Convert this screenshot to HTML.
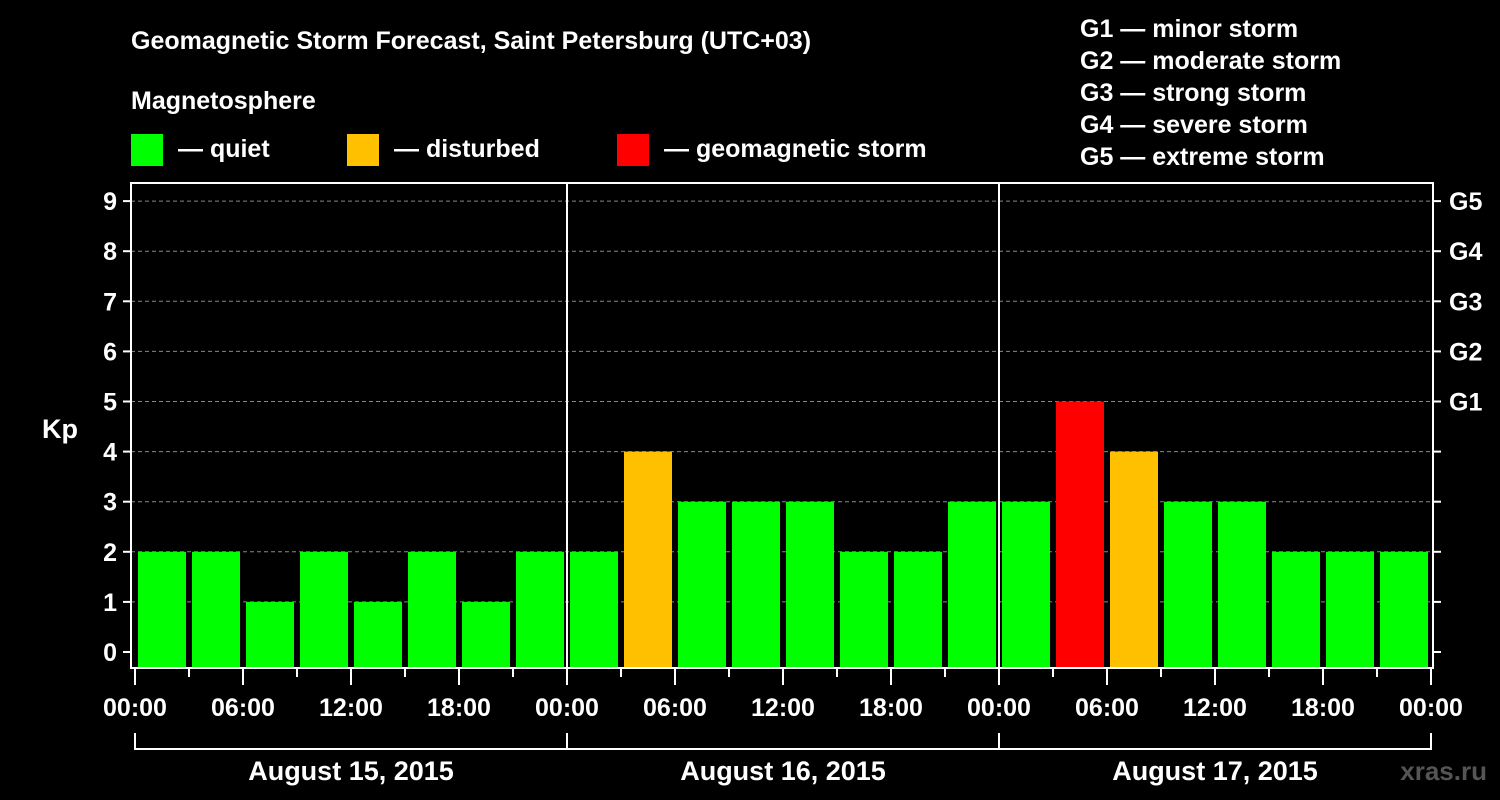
<!DOCTYPE html>
<html><head><meta charset="utf-8"><style>
html,body{margin:0;padding:0;background:#000;width:1500px;height:800px;overflow:hidden}
svg{display:block;font-family:"Liberation Sans",Arial,sans-serif;font-weight:bold}
</style></head><body>
<svg id="c" width="1500" height="800" viewBox="0 0 1500 800">
<text x="131" y="49" fill="#fff" font-size="25">Geomagnetic Storm Forecast, Saint Petersburg (UTC+03)</text>
<text x="131" y="109" fill="#fff" font-size="25">Magnetosphere</text>
<g><rect x="131" y="134" width="32" height="32" fill="#00ff00"/><text x="178" y="157" fill="#fff" font-size="25">— quiet</text></g>
<g><rect x="347" y="134" width="32" height="32" fill="#ffc000"/><text x="394" y="157" fill="#fff" font-size="25">— disturbed</text></g>
<g><rect x="617" y="134" width="32" height="32" fill="#ff0000"/><text x="664" y="157" fill="#fff" font-size="25">— geomagnetic storm</text></g>
<g fill="#fff" font-size="25">
<text x="1080" y="37">G1 — minor storm</text><text x="1080" y="69">G2 — moderate storm</text><text x="1080" y="101">G3 — strong storm</text><text x="1080" y="133">G4 — severe storm</text><text x="1080" y="165">G5 — extreme storm</text></g>
<text x="42" y="438" fill="#fff" font-size="27">Kp</text>
<text x="1487" y="780" fill="#555" font-size="26" text-anchor="end">xras.ru</text>
<g id="g"></g>
</svg>
<script>
const kpValues=[2,2,1,2,1,2,1,2, 2,4,3,3,3,2,2,3, 3,5,4,3,3,2,2,2];
const dayLabels=["August 15, 2015","August 16, 2015","August 17, 2015"];
const timeLabels=["00:00","06:00","12:00","18:00"];
const yTicks=[0,1,2,3,4,5,6,7,8,9];
const gLabels=["G1","G2","G3","G4","G5"];
const X0=135,SLOT=54,PL=131,PR=1433,PT=183,PB=668;
const y=v=>652-v*50.1;
const x=i=>X0+i*SLOT;
const g=document.getElementById('g');
const NS='http://www.w3.org/2000/svg';
function mk(t,a,txt){const e=document.createElementNS(NS,t);for(const k in a)e.setAttribute(k,a[k]);if(txt!=null)e.textContent=txt;g.appendChild(e);return e;}
yTicks.forEach(v=>{
 if(v>0){const l=mk('line',{x1:PL,x2:PR,y1:y(v),y2:y(v),stroke:'#888','stroke-dasharray':'4,3','stroke-width':1});
 
 }
 const t=mk('line',{x1:PL-8,x2:PL,y1:y(v),y2:y(v),stroke:'#fff','stroke-width':2});
 
 
 const t2=mk('line',{x1:PR,x2:PR+8,y1:y(v),y2:y(v),stroke:'#fff','stroke-width':2});
 
 
 const tx=mk('text',{x:PL-14,y:y(v)+9,fill:'#fff','font-size':25,'text-anchor':'end'},String(v));
 
 
});
gLabels.forEach((s,i)=>{
 const tx=mk('text',{x:1449,y:y(5+i)+9,fill:'#fff','font-size':25},s);
 
 
});
kpValues.forEach((v,i)=>{
 const c=v>=5?'#ff0000':(v>=4?'#ffc000':'#00ff00');
 const r=mk('rect',{x:x(i)+3,y:y(v),width:48,height:PB-y(v),fill:c});
 
 
});
[1,2].forEach(d=>{const l=mk('line',{x1:x(d*8),x2:x(d*8),y1:PT,y2:PB,stroke:'#fff','stroke-width':2});
 
 });
const fr=mk('rect',{x:PL,y:PT,width:PR-PL,height:PB-PT,fill:'none',stroke:'#fff','stroke-width':2});


for(let i=0;i<=24;i++){
 const long=i%2==0;
 const t=mk('line',{x1:x(i),x2:x(i),y1:PB,y2:PB+(long?17:9),stroke:'#fff','stroke-width':2});
 
 
 if(long){const lab=i==24?timeLabels[0]:timeLabels[(i/2)%4];
  const tx=mk('text',{x:x(i),y:716,fill:'#fff','font-size':25,'text-anchor':'middle'},lab);
  
  }
}
dayLabels.forEach((s,d)=>{
 const p=mk('path',{d:`M${x(d*8)},733V749H${x(d*8+8)}V733`,fill:'none',stroke:'#fff','stroke-width':2});
 
 
 const tx=mk('text',{x:x(d*8+4),y:780,fill:'#fff','font-size':27,'text-anchor':'middle'},s);
 
 
});
</script>
</body></html>
